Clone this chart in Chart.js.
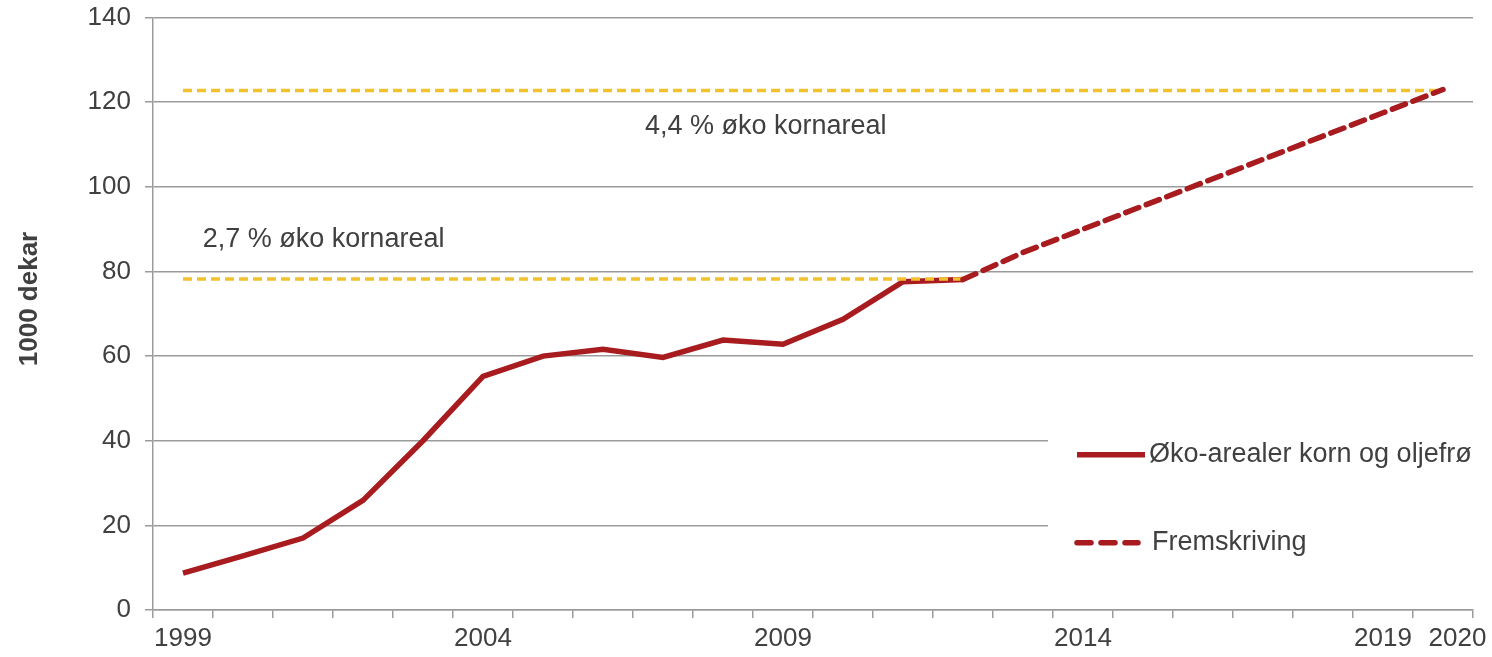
<!DOCTYPE html>
<html>
<head>
<meta charset="utf-8">
<script src="https://cdn.jsdelivr.net/npm/chart.js@4"></script>
<style>
  html, body { margin: 0; padding: 0; background: #fff; overflow: hidden; }
  #frame { width: 1492px; height: 657px; overflow: hidden; position: relative; }
  #wrap { width: 1492px; height: 669px; position: absolute; top: -12px; left: 0; }
</style>
</head>
<body>
<div id="frame"><div id="wrap"><canvas id="okoChart"></canvas></div></div>
<script>
/* ── data ── */
const years = ['1999', '2000', '2001', '2002', '2003', '2004', '2005', '2006', '2007', '2008', '2009',
               '2010', '2011', '2012', '2013', '2014', '2015', '2016', '2017', '2018', '2019', '2020'];
const shownYears = ['1999', '2004', '2009', '2014', '2019', '2020'];

const okoAreal = [8.7, 12.8, 17.0, 25.9, 40.0, 55.2, 60.0, 61.6, 59.7, 63.8, 62.8,
                  68.7, 77.6, 78.1, null, null, null, null, null, null, null, null];
const fremskriving = [null, null, null, null, null, null, null, null, null, null, null,
                      null, null, 78.1, 84.5, 90.0, 95.5, 101.0, 106.5, 112.0, 117.5, 123.0];
const mal27 = [78.2, 78.2, 78.2, 78.2, 78.2, 78.2, 78.2, 78.2, 78.2, 78.2, 78.2,
               78.2, 78.2, 78.2, null, null, null, null, null, null, null, null];
const mal44 = [122.8, 122.8, 122.8, 122.8, 122.8, 122.8, 122.8, 122.8, 122.8, 122.8, 122.8,
               122.8, 122.8, 122.8, 122.8, 122.8, 122.8, 122.8, 122.8, 122.8, 122.8, 122.8];

const yTicks = [0, 20, 40, 60, 80, 100, 120, 140];

const notes = [
    { text: '4,4 % øko kornareal', x: 7.7, y: 114.3 },
    { text: '2,7 % øko kornareal', x: 0.33, y: 87.6 }
];

/* ── colours / fonts ── */
const RED = '#a81b1f';
const YELLOW = '#f2c12e';
const GRID = '#9b9b9b';
const TXT = '#404040';
const FONT = '"Liberation Sans", Arial, sans-serif';

/* ── notes on the chart ── */
const notesPlugin = {
    id: 'notes',
    afterDatasetsDraw(chart) {
        const { ctx, scales: { x, y } } = chart;
        ctx.save();
        ctx.fillStyle = TXT;
        ctx.font = '27px ' + FONT;
        ctx.textAlign = 'left';
        ctx.textBaseline = 'middle';
        notes.forEach(n => ctx.fillText(n.text, x.getPixelForValue(n.x), y.getPixelForValue(n.y)));
        ctx.restore();
    }
};

/* ── y title drawn by hand so it sits where the original has it ── */
const yTitle = {
    id: 'yTitle',
    afterDraw(chart) {
        const { ctx, scales: { y } } = chart;
        ctx.save();
        ctx.translate(30, y.getPixelForValue(73.5));
        ctx.rotate(-Math.PI / 2);
        ctx.fillStyle = TXT;
        ctx.font = 'bold 26px ' + FONT;
        ctx.textAlign = 'center';
        ctx.textBaseline = 'middle';
        ctx.fillText('1000 dekar', 0, 0);
        ctx.restore();
    }
};

/* ── legend inside the plot, on a white box ── */
const boxLegend = {
    id: 'boxLegend',
    beforeDatasetsDraw(chart) {
        const { ctx, chartArea, scales: { y } } = chart;
        const top = y.getPixelForValue(49.7);
        ctx.save();
        ctx.fillStyle = '#ffffff';
        ctx.fillRect(1048, top, chartArea.right - 1048 + 1, chartArea.bottom - top - 2);
        ctx.restore();
    },
    afterDraw(chart) {
        const { ctx, scales: { y } } = chart;
        const items = chart.data.datasets.filter(d => d.inLegend);
        const rows = [36.7, 15.9];
        ctx.save();
        ctx.font = '27px ' + FONT;
        ctx.fillStyle = TXT;
        ctx.textBaseline = 'middle';
        items.forEach((d, i) => {
            const yy = y.getPixelForValue(rows[i]);
            ctx.strokeStyle = d.borderColor;
            ctx.lineWidth = 5.5;
            ctx.lineCap = d.borderDash ? 'round' : 'butt';
            ctx.setLineDash(d.borderDash ? [14, 10] : []);
            ctx.beginPath();
            ctx.moveTo(1077, yy);
            ctx.lineTo(d.borderDash ? 1138 : 1145, yy);
            ctx.stroke();
            ctx.setLineDash([]);
            ctx.fillText(d.label, d.borderDash ? 1152 : 1149, yy);
        });
        ctx.restore();
    }
};

new Chart(document.getElementById('okoChart'), {
    type: 'line',
    data: {
        labels: years,
        datasets: [
            {
                label: 'Øko-arealer korn og oljefrø',
                data: okoAreal,
                borderColor: RED,
                borderWidth: 5.5,
                pointRadius: 0,
                fill: false,
                inLegend: true,
                order: 4
            },
            {
                label: '2,7 %',
                data: mal27,
                borderColor: YELLOW,
                borderWidth: 3.5,
                borderDash: [9, 5],
                pointRadius: 0,
                fill: false,
                order: 3
            },
            {
                label: '4,4 %',
                data: mal44,
                borderColor: YELLOW,
                borderWidth: 3.5,
                borderDash: [9, 5],
                pointRadius: 0,
                fill: false,
                order: 2
            },
            {
                label: 'Fremskriving',
                data: fremskriving,
                borderColor: RED,
                borderWidth: 5.5,
                borderDash: [14, 8],
                borderCapStyle: 'round',
                pointRadius: 0,
                fill: false,
                inLegend: true,
                order: 1
            }
        ]
    },
    options: {
        responsive: true,
        maintainAspectRatio: false,
        animation: false,
        spanGaps: false,
        layout: { padding: { top: 8, right: 19, left: 0, bottom: 0 } },
        plugins: {
            legend: { display: false },
            tooltip: { enabled: false }
        },
        scales: {
            x: {
                type: 'category',
                offset: true,
                border: { color: GRID, width: 1.5 },
                grid: {
                    offset: true,
                    drawOnChartArea: false,
                    drawTicks: true,
                    tickLength: 8,
                    color: GRID,
                    lineWidth: 1.5
                },
                ticks: {
                    autoSkip: false,
                    maxRotation: 0,
                    padding: 5,
                    color: TXT,
                    font: { size: 26, family: FONT },
                    callback: function (val) {
                        const lab = this.getLabelForValue(val);
                        if (!shownYears.includes(lab)) return '';
                        // last label sits a bit to the right in the original
                        return lab === '2020' ? '    ' + lab : lab;
                    }
                },
                afterFit: s => { s.height = 47; }
            },
            y: {
                min: 0,
                max: 140,
                border: { color: GRID, width: 1.5 },
                grid: { color: GRID, lineWidth: 1.5, tickLength: 8 },
                afterBuildTicks: s => { s.ticks = yTicks.map(v => ({ value: v })); },
                ticks: {
                    padding: 14,
                    color: TXT,
                    font: { size: 26, family: FONT }
                },
                afterFit: s => { s.width = 153; }
            }
        }
    },
    plugins: [notesPlugin, boxLegend, yTitle]
});
</script>
</body>
</html>
